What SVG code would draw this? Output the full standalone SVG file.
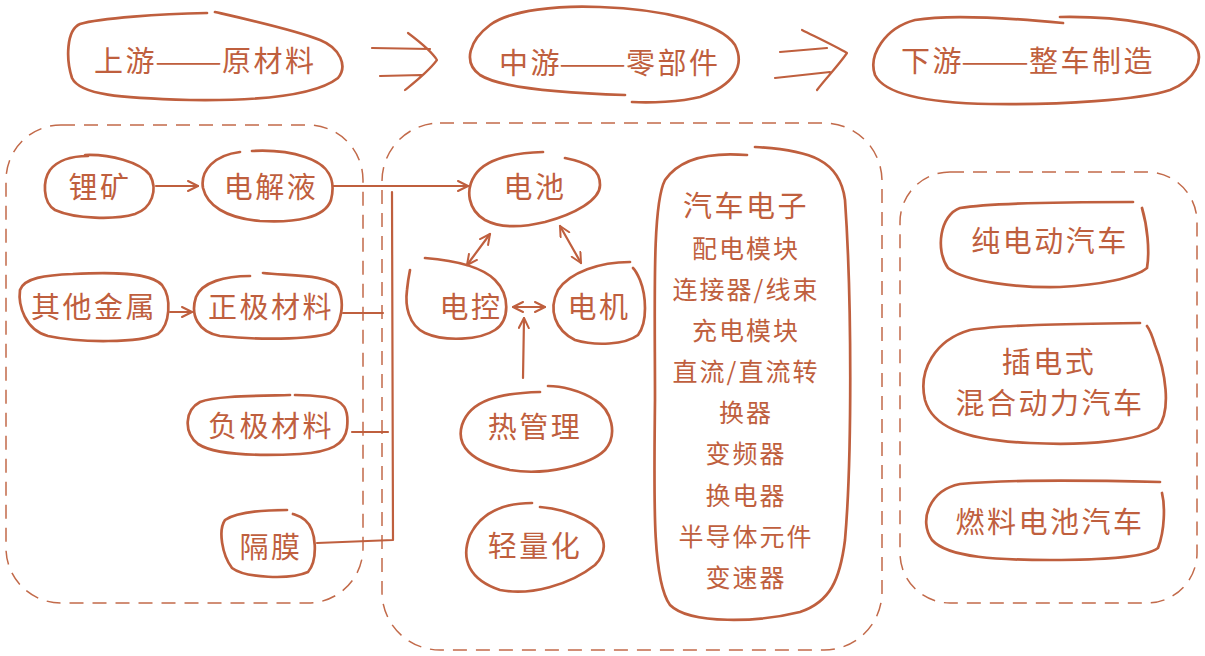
<svg xmlns="http://www.w3.org/2000/svg" width="1205" height="656" viewBox="0 0 1205 656">
<style>
.blob{fill:none;stroke:#BF5F3E;stroke-width:2.7;stroke-linecap:round;stroke-linejoin:round}
.panel{fill:none;stroke:#C26A4A;stroke-width:1.5;stroke-dasharray:14 9}
.con{fill:none;stroke:#BF5F3E;stroke-width:2.2;stroke-linecap:round;stroke-linejoin:round}
.t{font-family:"Noto Sans CJK SC","Noto Sans",sans-serif;font-size:29px;letter-spacing:2.5px;fill:#BF5F3E;text-anchor:middle;dominant-baseline:central}
.l{text-anchor:start}
.d{letter-spacing:0px}
.s{font-size:25px;letter-spacing:2px}
</style>
<defs>
<marker id="ah" viewBox="0 0 12 12" refX="11" refY="6" markerWidth="12" markerHeight="12" markerUnits="userSpaceOnUse" orient="auto-start-reverse">
<path d="M1,1 L11,6 L1,11" fill="none" stroke="#BF5F3E" stroke-width="2" stroke-linecap="round" stroke-linejoin="round"/>
</marker>
</defs>
<rect width="1205" height="656" fill="#ffffff"/>

<g id="panels">
<rect class="panel" x="6" y="125" width="357" height="478" rx="55"/>
<rect class="panel" x="382" y="123" width="500" height="527" rx="58"/>
<rect class="panel" x="900" y="172" width="297" height="431" rx="50"/>
</g>

<g id="connectors">
<path class="con" d="M372,48 L430,49 M380,76 L422,75 M408,33 C420,42 432,52 437,60 C428,72 415,82 405,90"/>
<path class="con" d="M780,52 L827,48 M775,78 L830,72 M802,30 C818,38 835,46 847,53 C838,66 826,78 817,90"/>
<path class="con" marker-end="url(#ah)" d="M156,186 L198,186"/>
<path class="con" marker-end="url(#ah)" d="M170,312 L192,312"/>
<path class="con" marker-end="url(#ah)" d="M333,186 L468,186"/>
<path class="con" d="M392,192 L393,540 L317,543"/>
<path class="con" d="M343,313 L383,313"/>
<path class="con" d="M352,432 L388,432"/>
<path class="con" marker-start="url(#ah)" marker-end="url(#ah)" d="M490,234 L467,265"/>
<path class="con" marker-start="url(#ah)" marker-end="url(#ah)" d="M560,226 L581,263"/>
<path class="con" marker-start="url(#ah)" marker-end="url(#ah)" d="M513,307 L545,307"/>
<path class="con" marker-end="url(#ah)" d="M523,378 L524,318"/>
</g>

<g id="n-upstream">
<path class="blob" d="M207,13 C160,14 100,18 80,24 C66,30 66,60 72,78 C80,95 120,98 190,100 C260,101 315,96 338,78 C348,66 340,48 320,40 C295,30 250,20 215,12"/>
<text class="t l" x="94" y="59">上游</text>
<text class="t l d" x="155" y="59" textLength="67" lengthAdjust="spacingAndGlyphs">——</text>
<text class="t l" x="222" y="59">原材料</text>
</g>
<g id="n-midstream">
<path class="blob" d="M625,95 C560,93 500,88 480,75 C462,62 470,40 490,25 C510,10 560,5 600,7 C660,9 720,22 735,45 C745,65 735,85 700,97 C680,102 650,103 632,102"/>
<text class="t l" x="499" y="61">中游</text>
<text class="t l d" x="559" y="61" textLength="67" lengthAdjust="spacingAndGlyphs">——</text>
<text class="t l" x="626" y="61">零部件</text>
</g>
<g id="n-downstream">
<path class="blob" d="M1063,23 C1010,18 950,14 915,20 C885,28 868,55 875,75 C885,95 930,103 990,104 C1060,105 1140,100 1170,90 C1195,80 1205,60 1195,45 C1180,25 1120,16 1060,17"/>
<text class="t l" x="901" y="59">下游</text>
<text class="t l d" x="961" y="59" textLength="68" lengthAdjust="spacingAndGlyphs">——</text>
<text class="t l" x="1029" y="59">整车制造</text>
</g>

<g id="n-lithium">
<path class="blob" d="M85,155 C110,154 140,162 150,175 C158,190 152,208 135,214 C115,220 75,219 55,210 C42,202 43,180 50,170 C58,160 70,156 88,156"/>
<text class="t" x="100" y="185">锂矿</text>
</g>
<g id="n-electrolyte">
<path class="blob" d="M240,152 C215,155 200,170 203,188 C207,205 225,218 260,221 C295,223 325,218 331,200 C336,180 330,165 305,157 C290,152 270,150 252,151"/>
<text class="t" x="271" y="185">电解液</text>
</g>
<g id="n-metals">
<path class="blob" d="M73,274 C110,272 150,272 162,285 C172,298 170,325 158,334 C140,343 80,343 48,336 C25,330 18,305 20,290 C24,278 45,275 73,274"/>
<text class="t" x="94" y="305">其他金属</text>
</g>
<g id="n-cathode">
<path class="blob" d="M263,273 C290,276 330,274 338,288 C345,302 342,325 330,333 C310,340 255,340 220,336 C198,332 190,315 196,297 C202,282 225,276 250,276"/>
<text class="t" x="271" y="305">正极材料</text>
</g>
<g id="n-anode">
<path class="blob" d="M290,395 C250,396 215,396 200,402 C185,410 183,432 198,444 C215,455 260,456 300,454 C330,452 345,445 347,428 C349,410 345,400 325,397 C310,395 300,395 295,395"/>
<text class="t" x="271" y="424">负极材料</text>
</g>
<g id="n-separator">
<path class="blob" d="M287,510 C260,510 235,513 225,520 C218,530 222,555 232,568 C245,578 290,580 308,572 C318,560 317,530 305,520 C300,516 296,515 293,514"/>
<text class="t" x="271" y="545">隔膜</text>
</g>

<g id="n-battery">
<path class="blob" d="M543,152 C510,153 485,160 475,175 C465,190 468,210 485,220 C500,228 520,228 545,222 C575,214 600,200 600,185 C600,170 590,163 565,158"/>
<text class="t" x="535" y="185">电池</text>
</g>
<g id="n-control">
<path class="blob" d="M425,258 C450,260 480,265 495,280 C510,295 510,320 495,330 C480,340 445,342 425,333 C408,325 405,305 407,290 C408,280 409,275 410,270"/>
<text class="t" x="471" y="305">电控</text>
</g>
<g id="n-motor">
<path class="blob" d="M630,262 C600,262 570,272 558,290 C548,310 555,330 575,340 C595,346 625,345 638,335 C648,322 646,295 640,280 C637,273 635,270 633,268"/>
<text class="t" x="599" y="305">电机</text>
</g>
<g id="n-thermal">
<path class="blob" d="M540,392 C500,393 470,400 462,425 C456,445 470,462 510,470 C545,476 590,465 605,450 C618,435 612,410 595,400 C580,390 560,386 548,386"/>
<text class="t" x="535" y="425">热管理</text>
</g>
<g id="n-lightweight">
<path class="blob" d="M532,503 C500,503 480,515 470,535 C460,560 470,580 500,590 C530,596 570,585 595,565 C610,550 605,530 585,520 C570,512 555,508 540,507"/>
<text class="t" x="535" y="544">轻量化</text>
</g>
<g id="n-electronics">
<path class="blob" d="M747,155 C710,152 680,158 665,180 C652,205 655,300 655,400 C654,500 652,580 670,605 C690,625 760,622 800,612 C830,602 840,580 845,540 C852,460 852,300 845,200 C840,160 810,150 755,147"/>
<text class="t" x="746" y="204">汽车电子</text>
<text class="t s" x="746" y="247">配电模块</text>
<text class="t s" x="746" y="288">连接器/线束</text>
<text class="t s" x="746" y="329">充电模块</text>
<text class="t s" x="746" y="370">直流/直流转</text>
<text class="t s" x="746" y="411">换器</text>
<text class="t s" x="746" y="452">变频器</text>
<text class="t s" x="746" y="494">换电器</text>
<text class="t s" x="746" y="535">半导体元件</text>
<text class="t s" x="746" y="576">变速器</text>
</g>

<g id="n-bev">
<path class="blob" d="M1133,202 C1060,202 990,203 960,208 C940,215 935,250 948,268 C965,282 1020,288 1060,287 C1100,285 1135,278 1147,268 C1150,250 1147,225 1142,208"/>
<text class="t" x="1050" y="239">纯电动汽车</text>
</g>
<g id="n-phev">
<path class="blob" d="M1140,323 C1060,324 1000,325 970,330 C935,340 918,370 925,400 C932,425 960,440 1030,443 C1090,446 1140,440 1158,428 C1172,410 1165,370 1155,345 C1152,335 1150,330 1147,326"/>
<text class="t" x="1049" y="360">插电式</text>
<text class="t" x="1050" y="401">混合动力汽车</text>
</g>
<g id="n-fcev">
<path class="blob" d="M1160,482 C1080,480 1000,480 960,484 C930,490 918,520 932,540 C948,558 1000,560 1050,560 C1100,560 1145,558 1158,548 C1165,530 1165,505 1162,493"/>
<text class="t" x="1050" y="520">燃料电池汽车</text>
</g>
</svg>
